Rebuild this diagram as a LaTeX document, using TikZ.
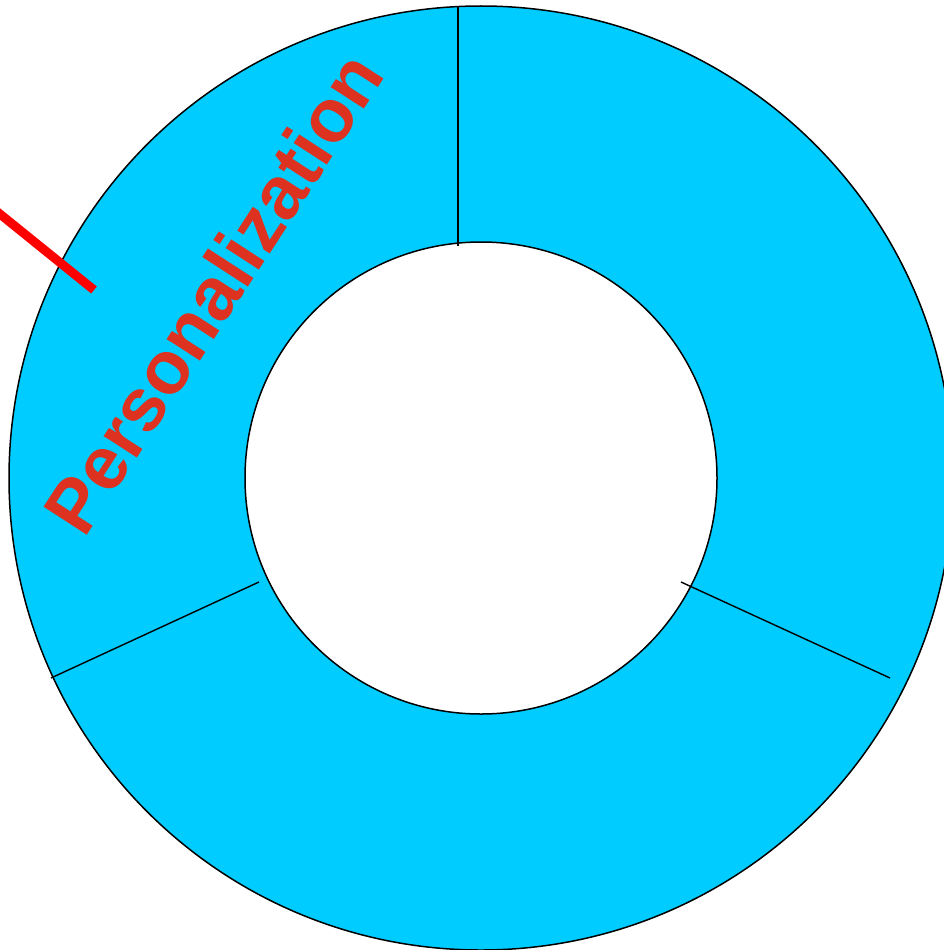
\documentclass[tikz,border=0pt]{standalone}
\usepackage{fontspec}
\setmainfont{Liberation Sans}
\definecolor{ringcyan}{RGB}{0,204,255}
\definecolor{labelred}{RGB}{222,50,32}
\begin{document}
\begin{tikzpicture}[x=1pt, y=-1pt]

    % Canvas
    \useasboundingbox (0,0) rectangle (943,950);
    \coordinate (c) at (481,478);

    % Ring
    \fill[ringcyan, even odd rule] (c) circle[radius=472pt] (c) circle[radius=236pt];
    \draw[line width=1.5pt] (c) circle[radius=472pt];
    \draw[line width=1.5pt] (c) circle[radius=236pt];

    % Dividers
    \draw[line width=1.4pt] (458,6) -- (458,246);
    \draw[line width=1.4pt] (51,678) -- (259,582);
    \draw[line width=1.4pt] (681,582) -- (890,678);

    % Red pointer
    \draw[red, line width=9pt] (-10,206) -- (94,290);

    % Label
    \node[labelred, font=\bfseries\fontsize{75}{75}\selectfont, rotate=57,
          anchor=base west, inner sep=0pt] (title) at (84,540) {Personalization};

\end{tikzpicture}
\end{document}
